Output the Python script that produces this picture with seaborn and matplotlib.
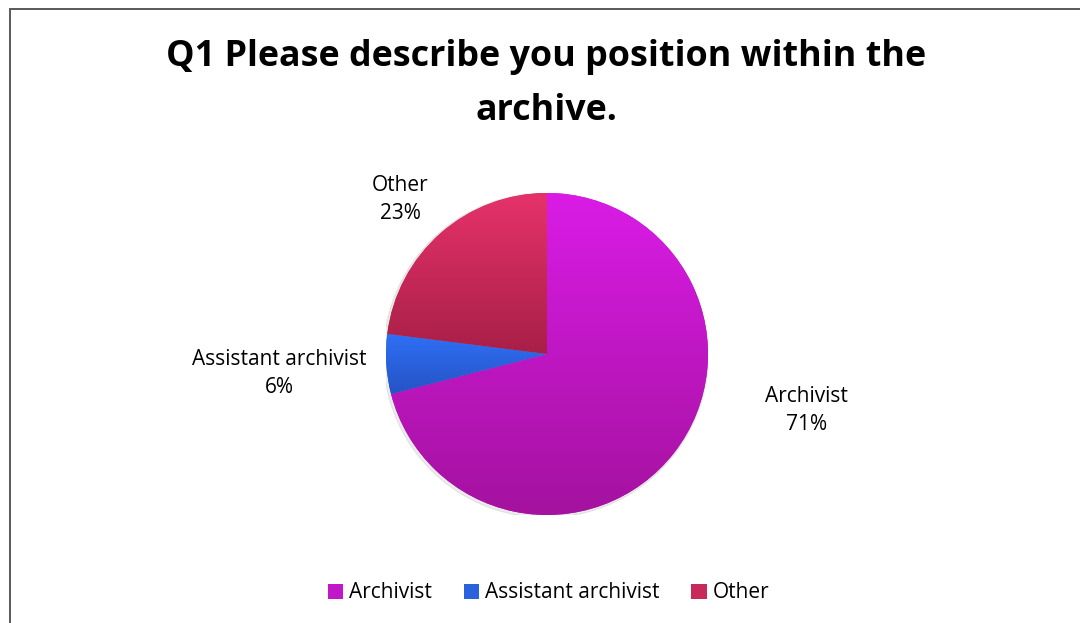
import numpy as np
import matplotlib
matplotlib.use("Agg")
import matplotlib.pyplot as plt
import seaborn as sns
from matplotlib.colors import LinearSegmentedColormap
from matplotlib.patches import Rectangle

sns.set_theme(style="white")
plt.rcParams["font.family"] = ["Open Sans", "DejaVu Sans"]
plt.rcParams["text.color"] = "black"

# Survey responses
categories = ["Archivist", "Assistant archivist", "Other"]
shares = [71, 6, 23]
pct_labels = ["71%", "6%", "23%"]

# Top / bottom shades for each slice
top_colors = ["#da1ce6", "#2f70f6", "#e6326b"]
bottom_colors = ["#a4129f", "#2553c4", "#a81f47"]
mid_colors = ["#c018c8", "#2a62dd", "#c8285a"]

fig = plt.figure(figsize=(10.8, 6.23), dpi=100)
fig.patch.set_facecolor("white")

# Chart frame
fig.add_artist(Rectangle((10 / 1080, -0.01), 1.02, 1 - 9 / 623 + 0.01,
                         transform=fig.transFigure, fill=False,
                         edgecolor="#595959", linewidth=1.4))

fig.text(0.506, 1 - 57 / 623, "Q1 Please describe you position within the",
         ha="center", va="center", fontsize=25.8, fontweight="bold", color="black")
fig.text(0.506, 1 - 111 / 623, "archive.",
         ha="center", va="center", fontsize=25.8, fontweight="bold", color="black")

cx, cy, r = 547, 354, 161
ax = fig.add_axes([(cx - r) / 1080, (623 - cy - r) / 623, 2 * r / 1080, 2 * r / 623])

wedges, _ = ax.pie(shares, colors=mid_colors, startangle=90, counterclock=False,
                   radius=1.0, wedgeprops=dict(linewidth=0))

# Soft shadow behind the pie
shadow = plt.Circle((-0.008, -0.008), 1.008, color="#000000", alpha=0.07, zorder=0.5)
ax.add_patch(shadow)

# Vertical gradient inside each slice
for w, ctop, cbot in zip(wedges, top_colors, bottom_colors):
    ext = w.get_path().get_extents()
    cmap = LinearSegmentedColormap.from_list("g", [cbot, ctop])
    grad = np.linspace(0, 1, 256).reshape(-1, 1)
    im = ax.imshow(grad, cmap=cmap, origin="lower", aspect="auto",
                   extent=(ext.x0, ext.x1, ext.y0, ext.y1), zorder=2)
    im.set_clip_path(w)

ax.set_xlim(-1, 1)
ax.set_ylim(-1, 1)
ax.set_aspect("equal")
ax.axis("off")

label_pos = [(1.61, -0.35), (-1.66, -0.12), (-0.91, 0.96)]
for (x, y), cat, pct in zip(label_pos, categories, pct_labels):
    ax.text(x, y, f"{cat}\n{pct}", ha="center", va="center", fontsize=15,
            color="black", linespacing=1.45, zorder=5)

handles = [Rectangle((0, 0), 1, 1, facecolor=c, edgecolor="none") for c in mid_colors]
fig.legend(handles, categories, loc="center", bbox_to_anchor=(0.508, 1 - 593 / 623),
           ncol=3, frameon=False, fontsize=15, handlelength=0.75, handleheight=0.75,
           handletextpad=0.3, columnspacing=1.5, labelcolor="black")

fig.savefig("out.png", dpi=100, facecolor="white")
